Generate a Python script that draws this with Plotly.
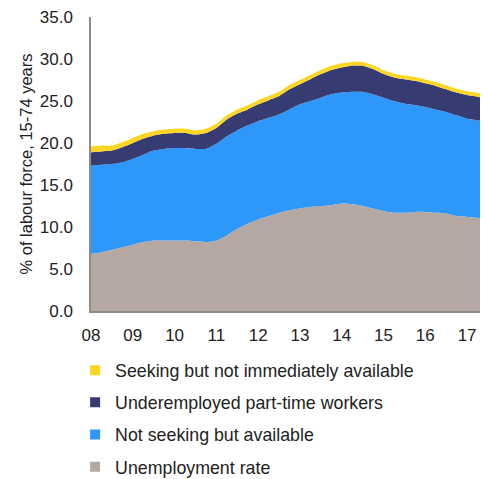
import plotly.graph_objects as go

years = [2008 + q * 0.25 for q in range(39)]

unemployment = [6.8, 7.0, 7.3, 7.6, 7.9, 8.2, 8.4, 8.4, 8.4, 8.4, 8.3, 8.2, 8.4,
                9.0, 9.8, 10.4, 10.9, 11.3, 11.7, 12.0, 12.2, 12.4, 12.5, 12.6,
                12.8, 12.7, 12.5, 12.2, 11.9, 11.7, 11.7, 11.8, 11.8, 11.7, 11.6,
                11.3, 11.2, 11.1, 11.0]
not_seeking = [10.5, 10.4, 10.2, 10.1, 10.2, 10.4, 10.7, 10.9, 11.0, 11.0, 11.0, 11.1, 11.5,
               11.8, 11.7, 11.7, 11.7, 11.7, 11.7, 12.0, 12.4, 12.6, 12.9, 13.2,
               13.2, 13.4, 13.6, 13.6, 13.5, 13.3, 13.0, 12.7, 12.5, 12.3, 12.1,
               12.0, 11.7, 11.6, 11.4]
underemployed = [1.6, 1.6, 1.6, 1.8, 1.9, 1.9, 1.8, 1.8, 1.8, 1.8, 1.7, 1.9, 1.9,
                 2.0, 2.0, 1.9, 2.0, 2.1, 2.2, 2.4, 2.4, 2.6, 2.8, 2.9,
                 3.0, 3.1, 3.1, 3.0, 2.8, 2.8, 2.9, 2.9, 2.8, 2.8, 2.7,
                 2.7, 2.8, 2.8, 2.9]
seeking = [0.7, 0.7, 0.6, 0.6, 0.6, 0.6, 0.5, 0.5, 0.5, 0.5, 0.5, 0.5, 0.5,
           0.5, 0.5, 0.5, 0.5, 0.5, 0.5, 0.5, 0.5, 0.5, 0.5, 0.5,
           0.5, 0.45, 0.45, 0.45, 0.45, 0.45, 0.45, 0.45, 0.45, 0.45, 0.45,
           0.45, 0.45, 0.45, 0.45]

tick_vals = list(range(2008, 2018))
tick_text = ["08", "09", "10", "11", "12", "13", "14", "15", "16", "17"]

series = [
    ("Unemployment rate", unemployment, "#B5A8A2"),
    ("Not seeking but available", not_seeking, "#2E98FA"),
    ("Underemployed part-time workers", underemployed, "#363B72"),
    ("Seeking but not immediately available", seeking, "#FDD523"),
]

fig = go.Figure()
for name, vals, col in series:
    fig.add_trace(go.Scatter(
        x=years, y=vals, name=name, stackgroup="one", mode="lines",
        line=dict(width=0, color=col, shape="spline", smoothing=0.6),
        fillcolor=col, showlegend=False, hoverinfo="skip"))
# legend entries, listed top-down as in the reference
for name, vals, col in reversed(series):
    fig.add_trace(go.Scatter(
        x=[None], y=[None], name=name, mode="markers",
        marker=dict(symbol="square", size=10, color=col),
        legendgroup=name, showlegend=True))

family = "Liberation Sans, Arial, sans-serif"
tick_font = dict(family=family, size=17, color="#222")
fig.update_layout(
    width=480, height=471,
    margin=dict(l=83, r=0, t=9, b=168, autoexpand=False),
    paper_bgcolor="white", plot_bgcolor="white",
    font=tick_font,
    showlegend=True,
    legend=dict(x=-0.04, xanchor="left", y=-0.14, yanchor="top",
                traceorder="grouped", tracegroupgap=6,
                font=dict(family=family, size=17.8, color="#222"),
                bgcolor="rgba(0,0,0,0)", itemwidth=30),
    xaxis=dict(range=[2008, 2017.5], tickvals=tick_vals, ticktext=tick_text,
               showgrid=False, zeroline=False, showline=True, linecolor="#8c8c8c",
               linewidth=1.5, ticks="", ticklabelstandoff=8, tickfont=tick_font,
               ticklabeloverflow="allow", automargin=False),
    yaxis=dict(range=[0, 35], dtick=5, tickformat=".1f", showgrid=False,
               zeroline=False, showline=True, linecolor="#8c8c8c", linewidth=1.5,
               ticks="", ticklabelstandoff=13, tickfont=tick_font,
               ticklabeloverflow="allow", automargin=False,
               title=dict(text="% of labour force, 15-74 years", standoff=3,
                          font=dict(family=family, size=16.5, color="#222"))),
)

fig.write_html("out.html")
